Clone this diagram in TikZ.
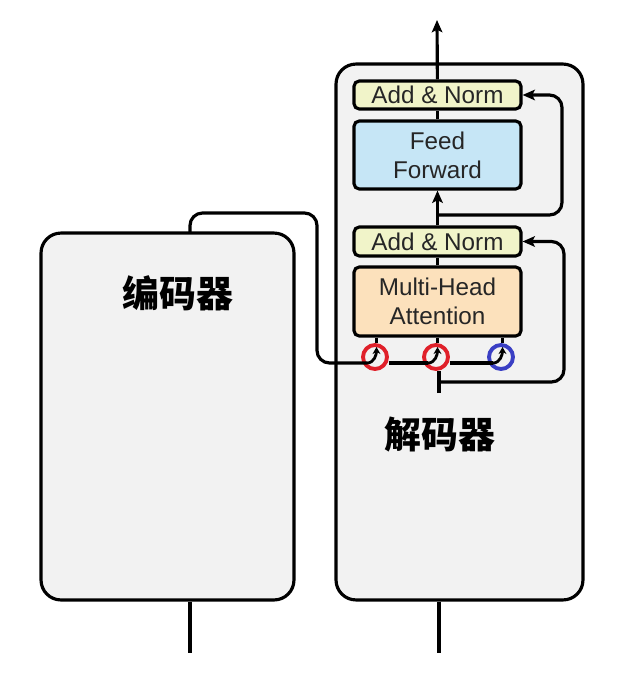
\documentclass[tikz,border=0pt]{standalone}
\usepackage{fontspec}
\setmainfont{Liberation Sans}
\newfontfamily\cjk{Noto Sans CJK SC}
\usetikzlibrary{arrows.meta}
\definecolor{panelgray}{HTML}{F2F2F2}
\definecolor{normgreen}{HTML}{F1F4C9}
\definecolor{ffblue}{HTML}{C6E6F6}
\definecolor{attnorange}{HTML}{FCE1BC}
\definecolor{kvred}{HTML}{E0202A}
\definecolor{qblue}{HTML}{3A3FC4}
\tikzset{
    panel/.style ={
        rectangle,
        rounded corners =0.4cm,
        line width=1.8pt,
        draw=black,
        fill=panelgray
    },
    layer/.style ={
        rectangle,
        rounded corners =3pt,
        minimum width =3.34cm,
        inner sep=0pt,
        line width=1.8pt,
        draw=black,
        align=center,
        font=\fontsize{13.8}{16.5}\selectfont,
        text=black!85
    },
    port/.style ={
        circle,
        minimum size =0.48cm,
        inner sep=0pt,
        line width=2.2pt
    },
    wire/.style ={line width=1.8pt},
    arr/.style ={line width=1.8pt, -{Stealth[length=7pt,width=6pt,inset=1.5pt]}},
    tinyarr/.style ={line width=1.6pt, -{Stealth[length=4pt,width=4.5pt]}}
}

\begin{document}
\begin{tikzpicture}[x=0.02cm,y=-0.02cm]
        \useasboundingbox (0,0) rectangle (637,680);

        % the two stacks
        \node[panel, minimum width=5.06cm, minimum height=7.34cm] (ENC) at(167.5,416.5) {};
        \node[panel, minimum width=4.94cm, minimum height=10.72cm] (DEC) at(459.5,332) {};
        \node[font=\cjk\bfseries\fontsize{21}{21}\selectfont] (ENCTXT) at(178,293) {编码器};
        \node[font=\cjk\bfseries\fontsize{21}{21}\selectfont] (DECTXT) at(440,435) {解码器};

        % decoder layers
        \node[layer, fill=normgreen, minimum height=0.56cm] (NORMTOP) at(437.5,95) {Add \& Norm};
        \node[layer, fill=ffblue, minimum height=1.36cm] (FF) at(437.5,155) {Feed\\Forward};
        \node[layer, fill=normgreen, minimum height=0.58cm] (NORMLOW) at(437.5,241.5) {Add \& Norm};
        \node[layer, fill=attnorange, minimum height=1.38cm] (MHA) at(437.5,301.5) {Multi-Head\\Attention};

        % inputs of the attention
        \node[port, draw=kvred] (K) at(375,357) {};
        \node[port, draw=kvred] (V) at(436,357) {};
        \node[port, draw=qblue] (Q) at(501,357) {};
        \coordinate (KIN) at(367,363);
        \coordinate (VIN) at(428,363);
        \coordinate (QIN) at(493,363);
        \foreach \n in {K,V,Q}{
            \draw[tinyarr] (\n IN) to[out=0,in=-90] ([xshift=0.03cm,yshift=0.2cm]\n.center);
            \draw[wire] ([xshift=0.03cm]\n.north) -- ([xshift=0.03cm]\n.north |- MHA.south);
        }

        \coordinate (OUT) at(437,20);
        \coordinate (ENCOUT) at(190,233);
        \coordinate (ENCIN) at(190,653);
        \coordinate (DECIN) at(439,653);
        \coordinate (DECSTUB) at(439,393);
        \coordinate (RES1) at(439,382);
        \coordinate (RES2) at(437,215);

        \draw[arr] (NORMTOP) -- (OUT);
        \draw[wire] (FF) -- (NORMTOP);
        \draw[arr] (NORMLOW) -- (FF);
        \draw[wire] (MHA) -- (NORMLOW);
        \draw[arr, rounded corners=0.25cm] (RES2) -- ++(125,0) |- (NORMTOP.east);
        \draw[arr, rounded corners=0.25cm] (RES1) -- ++(125,0) |- (NORMLOW.east);
        \draw[wire] (DECSTUB) -- (DECSTUB |- V.south);
        \draw[wire, rounded corners=0.25cm] (ENCOUT) -- (190,213) -- (317,213) -- (317,363) -- (KIN);
        \draw[wire] (K.east |- VIN) -- (VIN);
        \draw[wire] (V.east |- QIN) -- (QIN);
        \draw[wire] (ENC.south -| ENCIN) -- (ENCIN);
        \draw[wire] (DEC.south -| DECIN) -- (DECIN);
    \end{tikzpicture}
\end{document}
